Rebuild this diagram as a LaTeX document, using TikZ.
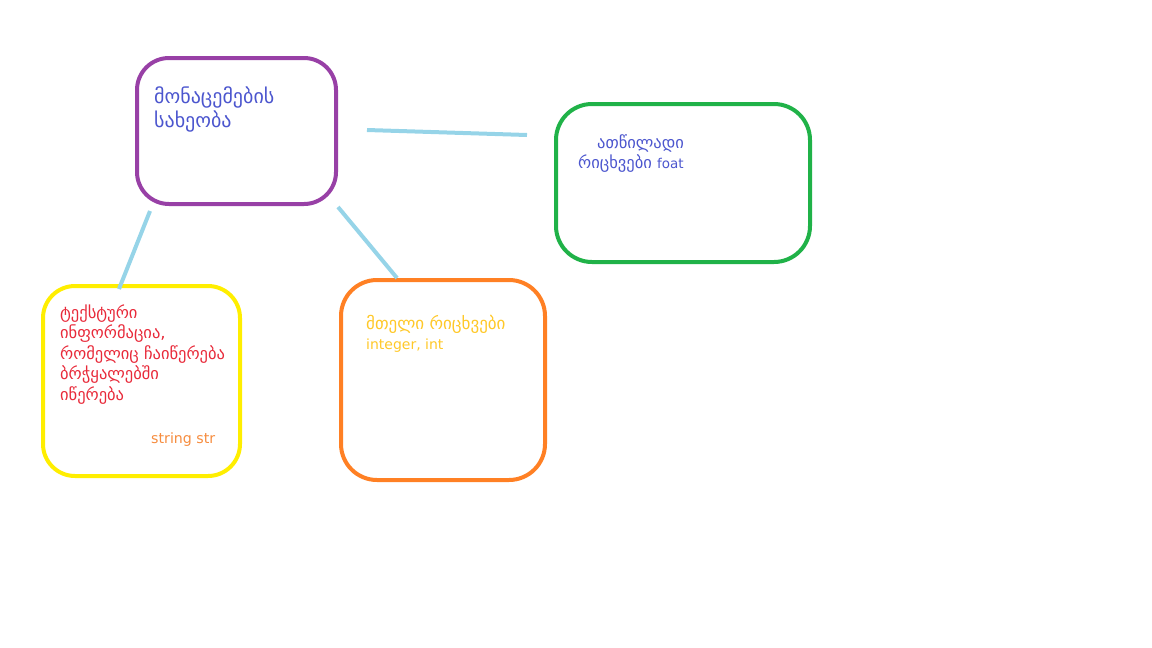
\documentclass[tikz,border=0pt]{standalone}
\usepackage{fontspec}
\setmainfont{DejaVu Sans}
\usepackage{tikz}
\usetikzlibrary{positioning}
\usepackage{xcolor}
\definecolor{mypurple}{RGB}{152,64,166}
\definecolor{mygreen}{RGB}{32,178,72}
\definecolor{myyellow}{RGB}{255,238,0}
\definecolor{myorange}{RGB}{255,128,36}
\definecolor{mylink}{RGB}{150,212,232}
\definecolor{myblue}{RGB}{76,86,206}
\definecolor{myred}{RGB}{232,42,58}
\definecolor{mytan}{RGB}{246,140,62}
\definecolor{mygold}{RGB}{255,200,40}
\newcommand{\latin}[2]{{\fontsize{#1}{#1}\selectfont #2}}
\tikzset{
  typebox/.style={draw,line width=4pt,rounded corners=32pt,inner sep=0pt},
  typetext/.style={anchor=base west,inner sep=0pt,align=left},
  link/.style={draw=mylink,line width=4pt}
}

\begin{document}
\begin{tikzpicture}[x=1pt,y=-1pt]
        \useasboundingbox (0,0) rectangle (1152,648);
        % boxes
        \node[typebox,draw=mypurple,minimum width=199pt,minimum height=146pt] (types) at (236.5,131) {};
        \node[typebox,draw=mygreen,minimum width=254pt,minimum height=158pt,rounded corners=36pt] (float) at (683,183) {};
        \node[typebox,draw=myyellow,minimum width=197pt,minimum height=190pt] (string) at (141.5,381) {};
        \node[typebox,draw=myorange,minimum width=204pt,minimum height=200pt,rounded corners=36pt] (int) at (443,380) {};
        % texts (anchored at the last baseline)
        \node[typetext,text=myblue,font=\fontsize{20}{24}\selectfont] (typesTxt) at (154,127) {მონაცემების\\სახეობა};
        \node[typetext,text=myblue,font=\fontsize{16.5}{20}\selectfont] (floatTxt) at (578,168) {\hspace*{19pt}ათწილადი\\რიცხვები \latin{13.5}{foat}};
        \node[typetext,text=myred,font=\fontsize{16.5}{20.5}\selectfont] (stringTxt) at (60,400) {ტექსტური\\ინფორმაცია,\\რომელიც ჩაიწერება\\ბრჭყალებში\\იწერება};
        \node[typetext,text=mytan,font=\fontsize{14.2}{15}\selectfont] (stringName) at (151,443) {string str};
        \node[typetext,text=mygold,font=\fontsize{17}{20}\selectfont] (intTxt) at (366,349) {მთელი რიცხვები\\\latin{14}{integer, int}};
        % connectors
        \coordinate (c1) at (367,130);
        \coordinate (c2) at (527,135);
        \coordinate (c3) at (150,211);
        \coordinate (c4) at (119,289);
        \coordinate (c5) at (338,207);
        \coordinate (c6) at (397,278);
        \draw[link] (c1) -- (c2);
        \draw[link] (c3) -- (c4);
        \draw[link] (c5) -- (c6);
      \end{tikzpicture}
\end{document}
